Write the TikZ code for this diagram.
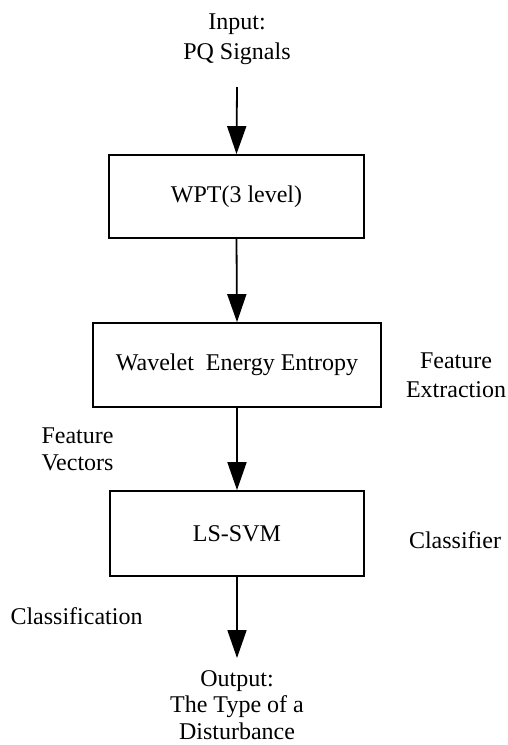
\documentclass[tikz,border=0pt]{standalone}
\usepackage{fontspec}
\setmainfont{Liberation Serif}
\usetikzlibrary{arrows.meta}
\begin{document}
\begin{tikzpicture}[x=1pt,y=-1pt,
  lbl/.style={font=\fontsize{24pt}{28pt}\selectfont, inner sep=0pt, align=center, anchor=base},
  stage/.style={draw, line width=1.8pt, inner sep=0pt, font=\fontsize{24pt}{28pt}\selectfont},
  flow/.style={line width=1.8pt, -{Triangle[length=28pt,width=19pt]}}]
\useasboundingbox (0,0) rectangle (507,745);

% processing stages
\node[stage, minimum width=255pt, minimum height=83pt] (wpt) at (236.5,196.5) {WPT(3 level)};
\node[stage, minimum width=288pt, minimum height=84pt] (wee) at (237,365) {Wavelet\ \ Energy Entropy};
\node[stage, minimum width=254pt, minimum height=85pt] (svm) at (237,533.5) {LS-SVM};

% input and output texts (anchored at the baseline of their last line)
\node[lbl, font=\fontsize{24pt}{30pt}\selectfont] (in) at (237,59) {Input:\\PQ Signals};
\node[lbl, font=\fontsize{24pt}{26.5pt}\selectfont] (out) at (237,739) {Output:\\The Type of a\\Disturbance};

% side annotations
\node[lbl, font=\fontsize{24pt}{29pt}\selectfont] (fext) at (456,397) {Feature\\Extraction};
\node[lbl, font=\fontsize{24pt}{27pt}\selectfont] (fvec) at (77.5,470) {Feature\\Vectors};
\node[lbl] (cls) at (455,548) {Classifier};
\node[lbl] (clsn) at (76.5,624) {Classification};

% flow arrows
\coordinate (start) at (237,87);
\coordinate (end) at (237,658);
\draw[flow] (start) -- (wpt.north);
\draw[flow] (wpt.south) -- (wee.north);
\draw[flow] (wee.south) -- (svm.north);
\draw[flow] (svm.south) -- (end);
\end{tikzpicture}
\end{document}
